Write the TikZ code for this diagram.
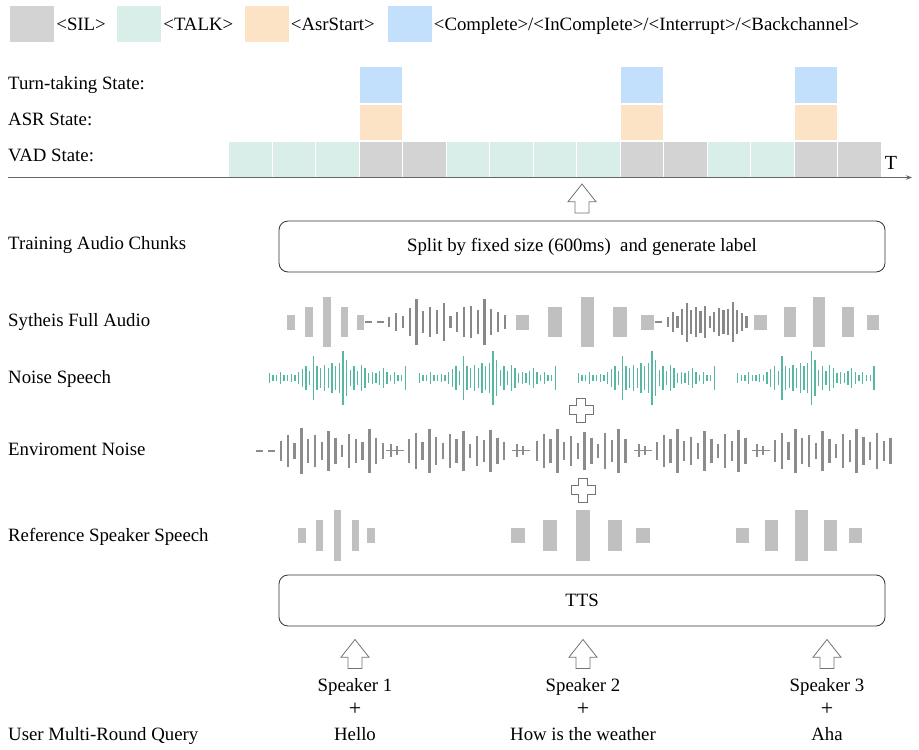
\documentclass[tikz,border=0pt]{standalone}
\usepackage{fontspec}
\setmainfont{Liberation Serif}
\usetikzlibrary{positioning,arrows.meta}
\definecolor{silC}{RGB}{211,211,211}
\definecolor{talkC}{RGB}{217,238,232}
\definecolor{asrC}{RGB}{253,227,197}
\definecolor{turnC}{RGB}{194,224,252}
\definecolor{blockC}{RGB}{192,192,192}
\definecolor{darkC}{RGB}{136,136,136}
\definecolor{envC}{RGB}{140,140,140}
\definecolor{noiseC}{RGB}{86,184,163}
\newcommand{\myBlocks}[3]{
\foreach \x/\h in {#3} \fill[blockC] ({\x-#2/2},{#1-\h}) rectangle ({\x+#2/2},{#1+\h});
}
\newcommand{\myBars}[5]{
\foreach \h [count=\i from 0] in {#5} \draw[#1] ({#2+\i*#4},{#3-\h}) -- ({#2+\i*#4},{#3+\h});
}
\tikzset{
	cell/.style={draw=white, line width=0.8pt, minimum width=43.5pt, minimum height=36.5pt, inner sep=0pt},
	legbox/.style={minimum width=44pt, minimum height=36pt, inner sep=0pt},
	lbl/.style={anchor=west, inner sep=0pt, text height=12.5pt, text depth=0pt},
	txt/.style={inner sep=0pt, text height=12.5pt, text depth=0pt},
	stagebox/.style={draw=black!80, rounded corners=9pt, minimum width=606pt, minimum height=51pt, line width=0.8pt},
	hollow/.style={draw=black!55, fill=white, line width=0.8pt},
	darkbar/.style={draw=darkC, line width=2.2pt},
	envbar/.style={draw=envC, line width=2.5pt},
	noisebar/.style={draw=noiseC, line width=1.3pt},
	dashline/.style={draw=darkC, line width=2pt, dash pattern=on 7pt off 5pt},
	upArrow/.pic={\draw[hollow] (-7,14.5) -- (-7,3.2) -- (-14,3.2) -- (0,-14.5) -- (14,3.2) -- (7,3.2) -- (7,14.5) -- cycle;},
	plusSign/.pic={\draw[hollow] (-4.5,-12) -- (4.5,-12) -- (4.5,-4.5) -- (12,-4.5) -- (12,4.5) -- (4.5,4.5) -- (4.5,12) -- (-4.5,12) -- (-4.5,4.5) -- (-12,4.5) -- (-12,-4.5) -- (-4.5,-4.5) -- cycle;}
}
\begin{document}
\begin{tikzpicture}[x=1pt, y=-1pt, every node/.style={font=\fontsize{18.8}{22}\selectfont}]
	\useasboundingbox (0,0) rectangle (919,750);
	%% legend
	\node[legbox, fill=silC] (Ls) at (32,24) {};
	\node[lbl, right=2pt of Ls] (Lst) {<SIL>};
	\node[legbox, fill=talkC] (Lt) at (139,24) {};
	\node[lbl, right=2pt of Lt] (Ltt) {<TALK>};
	\node[legbox, fill=asrC] (La) at (266.5,24) {};
	\node[lbl, right=2pt of La] (Lat) {<AsrStart>};
	\node[legbox, fill=turnC] (Lc) at (409.5,24) {};
	\node[lbl, right=2pt of Lc] (Lct) {<Complete>/<InComplete>/<Interrupt>/<Backchannel>};

	%% states
	\node[lbl] (turn) at (8,83) {Turn-taking State:};
	\node[lbl] (asr) at (8,119) {ASR State:};
	\node[lbl] (vad) at (8,155) {VAD State:};
	\foreach \c [count=\i] in {talkC,talkC,talkC,silC,silC,talkC,talkC,talkC,talkC,silC,silC,talkC,talkC,silC,silC}
		\node[cell, fill=\c] (V\i) at ({250.15+(\i-1)*43.5},159.5) {};
	\foreach \i [count=\k] in {4,10,14} {
		\node[cell, fill=asrC, above=0pt of V\i] (A\k) {};
		\node[cell, fill=turnC, above=0pt of A\k] (K\k) {};
	}
	\coordinate (O) at (8,177.5);
	\coordinate (E) at (912,177.5);
	\draw[black!60, line width=0.8pt, -{Stealth[length=6pt,width=4.5pt]}] (O) -- (E);
	\node[txt, font=\fontsize{20}{22}\selectfont] (T) at (891,163) {T};

	%% chunks
	\pic at (582,198.5) {upArrow};
	\node[lbl] (chunks) at (8,243) {Training Audio Chunks};
	\node[stagebox] (split) at (582,246.5) {Split by fixed size (600ms)\ \ and generate label};

	%% full audio
	\node[lbl] (full) at (8,320) {Sytheis Full Audio};
	\myBlocks{322}{7.5}{291/7.5, 309/15.3, 327/24.7, 344.5/15.3, 360.5/7.5}
	\myBlocks{322}{13.5}{522.5/7.5, 555/15.3, 587.5/24.7, 620/15.3, 647.5/7.5}
	\myBlocks{322}{12.5}{760.5/7.5, 790/15.3, 819/24.7, 848/15.3, 873/7.5}
	\draw[dashline] (365,322) -- (386,322);
	\draw[dashline] (655,322) -- (667,322);
	\myBars{darkbar}{389.3}{322}{6.8}{5,9,6,14,23,11,15,12,19,6,10,15,16,12,23,13,10,7}
	\myBars{darkbar}{668.3}{322}{4.6}{5,10,6,13,19.5,12,15,11,16,6,10,14,12,13,20,12,9,6}

	%% noise speech
	\node[lbl] (noise) at (8,377) {Noise Speech};
	\foreach \x in {269.3,419.3,578.3,737.7}
		\myBars{noisebar}{\x}{378.3}{3.68}{5,3,3,6,3,3,4,3,6,9,12,7,22,12,10,13,10,15,12,15,27,18,8,12,7,13,10,5,6,5,7,10,6,3,6,3,3,12}
	\pic at (581,410) {plusSign};

	%% environment noise
	\node[lbl] (env) at (8,449) {Enviroment Noise};
	\draw[dashline, draw=envC] (256,450.5) -- (277,450.5);
	\myBars{envbar}{281}{450.5}{6.8}{10,16,8,23,12,16,9,20,13,6,17,12,9,22,13,8}
	\myBars{envbar}{409}{450.5}{6.8}{12,18,9,22,14,8,17,12,20,7,15,11,21,13,9}
	\myBars{envbar}{537}{450.5}{6.8}{10,17,12,22,9,15,8,19,13,7,18,11,22,12}
	\myBars{envbar}{657}{450.5}{6.8}{9,16,12,22,10,14,8,20,12,7,17,10,21,13}
	\myBars{envbar}{775}{450.5}{6.8}{11,18,9,22,13,16,8,20,12,7,17,11,22,14,9,18,10,13}
	\foreach \s in {386,512,634,752} {
		\draw[envC, line width=1.6pt] (\s,450.5) -- ({\s+18},450.5);
		\draw[envbar] ({\s+5},444) -- ({\s+5},457);
		\draw[envbar] ({\s+11},446) -- ({\s+11},455);
	}
	\pic at (583,490) {plusSign};

	%% reference speech
	\node[lbl] (ref) at (8,535) {Reference Speaker Speech};
	\myBlocks{535.3}{7.5}{301.8/7.8, 319.5/15.3, 337.3/25.3, 355.3/15.3, 370.8/7.8}
	\myBlocks{535.3}{14}{518/7.8, 550.3/15.3, 583/25.3, 615/15.3, 643.3/7.8}
	\myBlocks{535.3}{13}{742.5/7.8, 771.5/15.3, 801/25.3, 830/15.3, 855/7.8}

	%% tts and queries
	\node[stagebox] (tts) at (582,600.5) {TTS};
	\node[lbl] (query) at (8,734) {User Multi-Round Query};
	\foreach \x/\q [count=\i] in {355/Hello, 583/How is the weather, 827/Aha} {
		\pic at (\x,654) {upArrow};
		\node[txt] (S\i) at (\x,685) {Speaker \i};
		\node[txt, font=\fontsize{22}{22}\selectfont] (P\i) at (\x,709) {+};
		\node[txt] (Q\i) at (\x,734) {\q};
	}
\end{tikzpicture}
\end{document}
